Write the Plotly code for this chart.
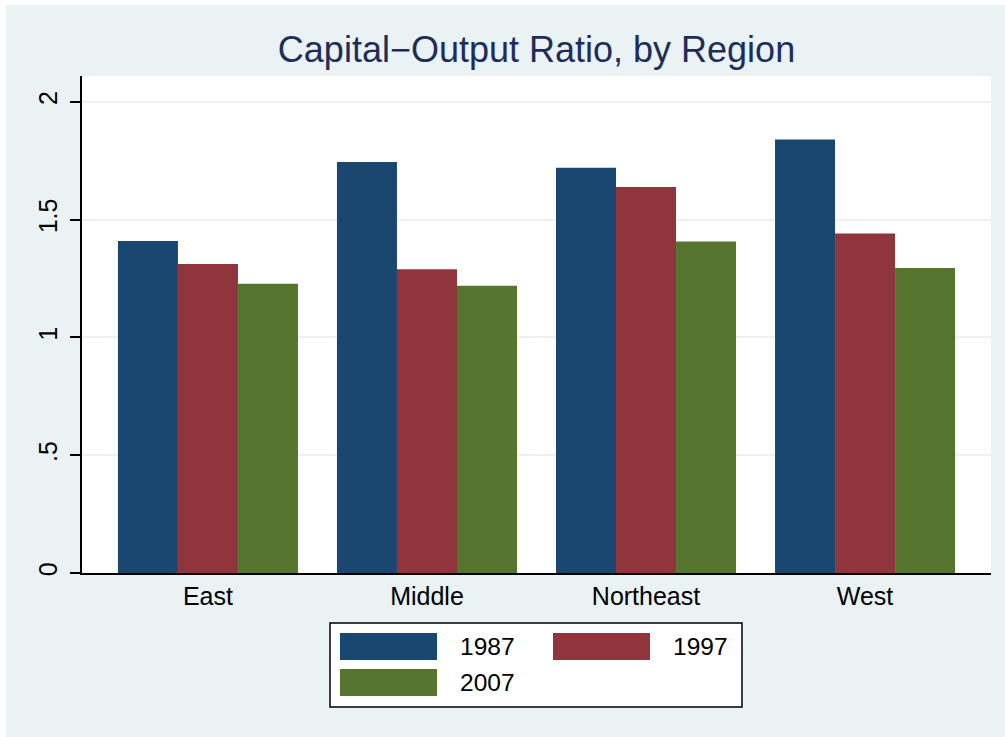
import plotly.graph_objects as go

regions = ["East", "Middle", "Northeast", "West"]
years = ["1987", "1997", "2007"]
v1987 = [1.41, 1.745, 1.72, 1.84]
v1997 = [1.312, 1.29, 1.639, 1.441]
v2007 = [1.228, 1.219, 1.407, 1.295]
series = [v1987, v1997, v2007]
colors = ["#1A476F", "#90353B", "#55752F"]
yticks = [0, 0.5, 1, 1.5, 2]
yticklabels = ["0", ".5", "1", "1.5", "2"]

W, H = 1005, 737
L, R, T, B = 82, 991, 76, 573
BG = "#EAF2F3"

def px(x):
    return (x - L) / (R - L)

def py(y):
    return (B - y) / (B - T)

fig = go.Figure()
for name, vals, col in zip(years, series, colors):
    fig.add_trace(go.Bar(x=regions, y=vals, name=name, marker_color=col,
                         marker_line_width=0, showlegend=False))

shapes = []
annotations = []
# white strips at the top and left edges of the image
shapes.append(dict(type="rect", xref="paper", yref="paper", x0=px(0), x1=px(W),
                   y0=py(5), y1=py(0), fillcolor="white", line_width=0, layer="below"))
shapes.append(dict(type="rect", xref="paper", yref="paper", x0=px(0), x1=px(6),
                   y0=py(H), y1=py(0), fillcolor="white", line_width=0, layer="below"))
# legend box
shapes.append(dict(type="rect", xref="paper", yref="paper", x0=px(330), x1=px(742),
                   y0=py(707), y1=py(623), fillcolor="white",
                   line=dict(color="black", width=1.5)))
leg_pos = [(340, 633), (553, 633), (340, 669)]
for (lx, ly), name, col in zip(leg_pos, years, colors):
    shapes.append(dict(type="rect", xref="paper", yref="paper", x0=px(lx), x1=px(lx + 97),
                       y0=py(ly + 27), y1=py(ly), fillcolor=col, line_width=0))
    annotations.append(dict(text=name, xref="paper", yref="paper", x=px(lx + 118),
                            y=py(ly + 13.5), xanchor="left", yanchor="middle",
                            showarrow=False, font=dict(size=24.5, color="black")))

fig.update_layout(
    width=W, height=H,
    paper_bgcolor=BG, plot_bgcolor="white",
    margin=dict(l=L, r=W - R, t=T, b=H - B, pad=0),
    barmode="group", bargap=0.178, bargroupgap=0,
    font=dict(family="Liberation Sans, Arial, sans-serif", size=24, color="black"),
    title=dict(text="Capital\u2212Output Ratio, by Region", x=px(536.5), xref="paper",
               y=1 - 49 / H, yref="container", xanchor="center", yanchor="middle",
               font=dict(size=36, color="#1E2D5A")),
    shapes=shapes, annotations=annotations,
    showlegend=False,
)
fig.update_xaxes(range=[-0.575, 3.575], showgrid=False, ticks="", showline=True,
                 linecolor="black", linewidth=1.5, tickfont=dict(size=25),
                 ticklabelstandoff=0)
fig.update_yaxes(range=[0, 2.11], tickvals=yticks, ticktext=yticklabels, tickangle=-90,
                 showgrid=True, gridcolor=BG, gridwidth=1.5, ticks="outside",
                 ticklen=10, tickwidth=1.5, tickcolor="black", showline=True,
                 linecolor="black", linewidth=1.5, zeroline=False,
                 tickfont=dict(size=25), ticklabelstandoff=3)

fig.write_html("out.html", config={"displayModeBar": False},
               post_script="document.body.style.margin='0';document.body.style.overflow='hidden';")
